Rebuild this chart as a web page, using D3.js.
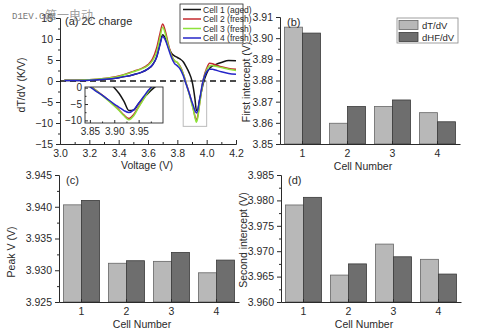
<!DOCTYPE html>
<html>
<head>
<meta charset="utf-8">
<script src="https://cdn.jsdelivr.net/npm/d3@7"></script>
<style>
  body { margin: 0; background: #fff; }
  svg { font-family: "Liberation Sans", Arial, sans-serif; }
</style>
</head>
<body>
<script>
// ---- panel (a) data: dT/dV vs voltage
var voltage = [3.03, 3.1, 3.2, 3.3, 3.4, 3.45, 3.5, 3.55, 3.6, 3.63, 3.66, 3.68, 3.7, 3.72, 3.74, 3.76, 3.78, 3.8,
               3.82, 3.84, 3.86, 3.88, 3.9, 3.91, 3.92, 3.93, 3.94, 3.95, 3.96, 3.97, 3.98, 4.0, 4.02, 4.04, 4.06, 4.1, 4.15, 4.2];
var cell1 = [0.1, 0.1, 0.2, 0.4, 0.8, 1.1, 1.5, 2.0, 2.9, 3.8, 5.8, 8.6, 11.0, 10.0, 8.0, 6.6, 6.0, 5.6,
             5.2, 4.6, 3.4, 2.0, 0.0, -1.8, -4.2, -7.0, -6.8, -4.8, -3.2, -1.6, -0.2, 1.8, 3.0, 3.6, 3.9, 4.4, 4.9, 4.8];
var cell2 = [0.2, 0.2, 0.3, 0.6, 1.2, 1.7, 2.3, 2.9, 3.9, 5.2, 8.0, 11.0, 13.6, 11.6, 8.6, 6.2, 4.8, 4.4,
             3.4, 1.8, -0.5, -2.8, -5.4, -6.8, -8.4, -9.4, -8.2, -5.8, -3.4, -1.0, 0.8, 3.0, 4.2, 4.1, 3.8, 3.4, 3.0, 2.8];
var cell3 = [0.2, 0.2, 0.3, 0.6, 1.1, 1.6, 2.2, 2.8, 3.7, 4.8, 7.0, 10.0, 12.8, 11.0, 8.2, 6.0, 4.9, 4.4,
             3.3, 1.7, -0.6, -3.0, -5.6, -7.0, -8.6, -9.8, -8.6, -6.0, -3.6, -1.2, 0.6, 2.6, 3.6, 3.7, 3.5, 3.2, 2.8, 2.5];
var cell4 = [0.1, 0.1, 0.2, 0.4, 0.8, 1.1, 1.5, 2.0, 2.9, 3.8, 5.8, 8.4, 10.6, 9.6, 7.6, 5.6, 4.2, 3.6,
             2.8, 1.3, -0.8, -2.8, -5.0, -6.0, -7.0, -7.6, -6.8, -4.8, -2.8, -0.8, 0.6, 2.2, 2.8, 2.8, 2.6, 2.2, 1.8, 1.6];
var cellNames = ["Cell 1 (aged)", "Cell 2 (fresh)", "Cell 3 (fresh)", "Cell 4 (fresh)"];
var voltTicks = [3.0, 3.2, 3.4, 3.6, 3.8, 4.0, 4.2];
var dTTicks = [-15, -10, -5, 0, 5, 10, 15];
var insetVoltTicks = [3.85, 3.90, 3.95];
var insetDTTicks = [-10, -5, 0];

// ---- panels (b)-(d): bar values per cell
var cellNumbers = ["1", "2", "3", "4"];
var barSeries = ["dT/dV", "dHF/dV"];
var firstDT  = [3.9052, 3.8598, 3.8677, 3.8648];
var firstDHF = [3.9024, 3.8677, 3.8708, 3.8605];
var peakDT   = [3.9403, 3.9311, 3.9314, 3.9296];
var peakDHF  = [3.9410, 3.9315, 3.9328, 3.9316];
var secondDT  = [3.9791, 3.9653, 3.9714, 3.9684];
var secondDHF = [3.9806, 3.9675, 3.9689, 3.9655];
var firstTicks  = [3.85, 3.86, 3.87, 3.88, 3.89, 3.90, 3.91];
var peakTicks   = [3.925, 3.930, 3.935, 3.940, 3.945];
var secondTicks = [3.960, 3.965, 3.970, 3.975, 3.980, 3.985];

var lineColors = ["#151515", "#c42a2e", "#8ee23a", "#2626c8"];
var barColors = ["#b8b8b8", "#6e6e6e"];
var barStrokes = ["#666", "#3a3a3a"];
var ink = "#2a2a2a";

var svg = d3.select("body").append("svg")
    .attr("width", 480)
    .attr("height", 336);
svg.append("rect").attr("width", 480).attr("height", 336).attr("fill", "#fff");

function styleAxis(g, size) {
  g.select(".domain").attr("stroke", ink).attr("stroke-width", 1);
  g.selectAll(".tick line").attr("stroke", ink);
  g.selectAll("text").attr("font-family", "Liberation Sans, Arial, sans-serif")
    .attr("font-size", size || 10).attr("fill", ink);
}

function midpoints(arr) {
  var out = [];
  for (var i = 0; i < arr.length - 1; i++) out.push((arr[i] + arr[i + 1]) / 2);
  return out;
}

// ================= panel (a)
var xV = d3.scaleLinear().domain([3.0, 4.2]).range([60, 236]);
var yT = d3.scaleLinear().domain([-15, 15]).range([144, 18]);

svg.append("g").attr("transform", "translate(0,144)")
  .call(d3.axisBottom(xV).tickValues(midpoints(voltTicks)).tickSizeInner(-2).tickSizeOuter(0).tickFormat(""))
  .call(function(g) { styleAxis(g); });
svg.append("g").attr("transform", "translate(0,144)")
  .call(d3.axisBottom(xV).tickValues(voltTicks).tickSizeInner(-4).tickSizeOuter(0).tickPadding(5.5)
        .tickFormat(d3.format(".1f")))
  .call(function(g) { styleAxis(g, 10.5); });
svg.append("g").attr("transform", "translate(60,0)")
  .call(d3.axisLeft(yT).tickValues(midpoints(dTTicks)).tickSizeInner(2).tickSizeOuter(0).tickFormat(""))
  .call(function(g) { styleAxis(g); });
svg.append("g").attr("transform", "translate(60,0)")
  .call(d3.axisLeft(yT).tickValues(dTTicks).tickSizeInner(4).tickSizeOuter(0).tickPadding(3))
  .call(function(g) { styleAxis(g, 10.5); });

// zero line
svg.append("line")
  .attr("x1", xV(3.0)).attr("x2", xV(4.2))
  .attr("y1", yT(0)).attr("y2", yT(0))
  .attr("stroke", "#111").attr("stroke-width", 1.5)
  .attr("stroke-dasharray", "6,4");

// zoom box
svg.append("rect")
  .attr("x", xV(3.84)).attr("y", yT(0))
  .attr("width", xV(4.0) - xV(3.84)).attr("height", yT(-10.8) - yT(0))
  .attr("fill", "none").attr("stroke", "#bbb").attr("stroke-width", 1);

var cells = [cell1, cell2, cell3, cell4];

var line = d3.line()
  .x(function(d, i) { return xV(voltage[i]); })
  .y(function(d) { return yT(d); })
  .curve(d3.curveMonotoneX);

svg.selectAll("path.cell")
  .data(cells)
  .enter().append("path")
  .attr("class", "cell")
  .attr("d", line)
  .attr("fill", "none")
  .attr("stroke", function(d, i) { return lineColors[i]; })
  .attr("stroke-width", 1.5);

// inset
var xI = d3.scaleLinear().domain([3.84, 4.0]).range([85, 163]);
var yI = d3.scaleLinear().domain([-10.8, 0.2]).range([123, 87]);

svg.append("rect")
  .attr("x", 85).attr("y", 87).attr("width", 78).attr("height", 36)
  .attr("fill", "#fff");

svg.append("clipPath").attr("id", "insetClip")
  .append("rect").attr("x", 85).attr("y", 87).attr("width", 78).attr("height", 36);

var insetLine = d3.line()
  .x(function(d, i) { return xI(voltage[i]); })
  .y(function(d) { return yI(d); })
  .curve(d3.curveMonotoneX);

svg.append("g").attr("clip-path", "url(#insetClip)")
  .selectAll("path")
  .data(cells)
  .enter().append("path")
  .attr("d", insetLine)
  .attr("fill", "none")
  .attr("stroke", function(d, i) { return lineColors[i]; })
  .attr("stroke-width", 1.5);

svg.append("rect")
  .attr("x", 85).attr("y", 87).attr("width", 78).attr("height", 36)
  .attr("fill", "none").attr("stroke", ink).attr("stroke-width", 0.9);

svg.append("g").attr("transform", "translate(0,123)")
  .call(d3.axisBottom(xI).tickValues(midpoints(insetVoltTicks).concat([3.975])).tickSizeInner(-1.5).tickSizeOuter(0).tickFormat(""))
  .call(function(g) { styleAxis(g); g.select(".domain").remove(); });
svg.append("g").attr("transform", "translate(0,123)")
  .call(d3.axisBottom(xI).tickValues(insetVoltTicks).tickSizeInner(-3).tickSizeOuter(0).tickPadding(5)
        .tickFormat(d3.format(".2f")))
  .call(function(g) { styleAxis(g, 10); g.select(".domain").remove(); });
svg.append("g").attr("transform", "translate(85,0)")
  .call(d3.axisLeft(yI).tickValues([-7.5, -2.5]).tickSizeInner(-1.5).tickSizeOuter(0).tickFormat(""))
  .call(function(g) { styleAxis(g); g.select(".domain").remove(); });
svg.append("g").attr("transform", "translate(85,0)")
  .call(d3.axisLeft(yI).tickValues(insetDTTicks).tickSizeInner(-3).tickSizeOuter(0).tickPadding(3))
  .call(function(g) { styleAxis(g, 10); g.select(".domain").remove(); });

// legend (a)
var legA = svg.append("g");
legA.append("rect")
  .attr("x", 180).attr("y", 4).attr("width", 63).attr("height", 39)
  .attr("fill", "#fff").attr("stroke", ink).attr("stroke-width", 0.8);
cellNames.forEach(function(name, i) {
  var yy = 9.5 + i * 9.5;
  legA.append("line").attr("x1", 183).attr("x2", 201).attr("y1", yy).attr("y2", yy)
    .attr("stroke", lineColors[i]).attr("stroke-width", 1.5);
  legA.append("text").attr("x", 203).attr("y", yy + 3).attr("font-size", 8.5)
    .attr("fill", ink).text(name);
});

svg.append("text").attr("x", 65).attr("y", 25).attr("font-size", 11).attr("fill", ink).text("(a) 2C charge");
svg.append("text").attr("transform", "translate(25,85) rotate(-90)")
  .attr("text-anchor", "middle").attr("font-size", 10.5).attr("fill", ink).text("dT/dV (K/V)");
svg.append("text").attr("x", 147).attr("y", 169)
  .attr("text-anchor", "middle").attr("font-size", 10.5).attr("fill", ink).text("Voltage (V)");

// watermark
svg.append("text").attr("x", 12).attr("y", 19).attr("font-family", "Liberation Mono, monospace")
  .attr("font-size", 9).attr("fill", "#777").text("D1EV.COM");
svg.append("text").attr("x", 45).attr("y", 20).attr("font-family", "Noto Sans CJK SC")
  .attr("font-size", 12).attr("fill", "#888").attr("fill-opacity", 0.8).text("第一电动");

// ================= bar panels
function barPanel(p) {
  var x = d3.scaleBand().domain(cellNumbers).range([p.x0, p.x0 + 180]).paddingInner(0.2).paddingOuter(0.1);
  var xs = d3.scaleBand().domain(barSeries).range([0, x.bandwidth()]);
  var y = d3.scaleLinear().domain([p.ticks[0], p.ticks[p.ticks.length - 1]]).range([p.yBot, p.yTop]);
  var g = svg.append("g");

  var rows = cellNumbers.map(function(c, i) { return [c, p.dt[i], p.dhf[i]]; });
  var grp = g.selectAll("g.cell").data(rows).enter().append("g")
    .attr("transform", function(d) { return "translate(" + x(d[0]) + ",0)"; });
  barSeries.forEach(function(s, k) {
    grp.append("rect")
      .attr("x", xs(s))
      .attr("y", function(d) { return y(d[k + 1]); })
      .attr("width", xs.bandwidth())
      .attr("height", function(d) { return p.yBot - y(d[k + 1]); })
      .attr("fill", barColors[k])
      .attr("stroke", barStrokes[k])
      .attr("stroke-width", 0.8);
  });

  g.append("g").attr("transform", "translate(0," + p.yBot + ")")
    .call(d3.axisBottom(x).tickSizeInner(-3).tickSizeOuter(0).tickPadding(5.5))
    .call(function(a) { styleAxis(a, 10.5); });
  g.append("g").attr("transform", "translate(" + p.x0 + ",0)")
    .call(d3.axisLeft(y).tickValues(midpoints(p.ticks)).tickSizeInner(2).tickSizeOuter(0).tickFormat(""))
    .call(function(a) { styleAxis(a); });
  g.append("g").attr("transform", "translate(" + p.x0 + ",0)")
    .call(d3.axisLeft(y).tickValues(p.ticks).tickSizeInner(4).tickSizeOuter(0).tickPadding(3)
          .tickFormat(d3.format(p.fmt)))
    .call(function(a) { styleAxis(a, 10.5); });

  g.append("text").attr("x", p.x0 + 7).attr("y", p.yTop + 9).attr("font-size", 11).attr("fill", ink).text(p.letter);
  g.append("text").attr("x", p.x0 + 83).attr("y", p.yBot + 26)
    .attr("text-anchor", "middle").attr("font-size", 10.5).attr("fill", ink).text("Cell Number");
  g.append("text").attr("transform", "translate(" + p.titleX + "," + p.titleY + ") rotate(-90)")
    .attr("text-anchor", "middle").attr("font-size", 10.5).attr("fill", ink).text(p.title);
}

barPanel({ x0: 280, yTop: 17, yBot: 144, ticks: firstTicks, fmt: ".2f", dt: firstDT, dhf: firstDHF,
           letter: "(b)", title: "First intercept (V)", titleX: 250, titleY: 82 });
barPanel({ x0: 59, yTop: 175, yBot: 302, ticks: peakTicks, fmt: ".3f", dt: peakDT, dhf: peakDHF,
           letter: "(c)", title: "Peak V (V)", titleX: 15, titleY: 252 });
barPanel({ x0: 281, yTop: 175, yBot: 302, ticks: secondTicks, fmt: ".3f", dt: secondDT, dhf: secondDHF,
           letter: "(d)", title: "Second intercept (V)", titleX: 247, titleY: 240 });

// legend (b)
var legB = svg.append("g");
legB.append("rect").attr("x", 397).attr("y", 18).attr("width", 61).attr("height", 25)
  .attr("fill", "#fff").attr("stroke", "#888").attr("stroke-width", 0.8);
barSeries.forEach(function(s, k) {
  var yy = 20.5 + k * 12;
  legB.append("rect").attr("x", 399).attr("y", yy).attr("width", 19).attr("height", 9)
    .attr("fill", barColors[k]).attr("stroke", barStrokes[k]).attr("stroke-width", 0.8);
  legB.append("text").attr("x", 422).attr("y", yy + 8).attr("font-size", 9.5).attr("fill", ink).text(s);
});
</script>
</body>
</html>
